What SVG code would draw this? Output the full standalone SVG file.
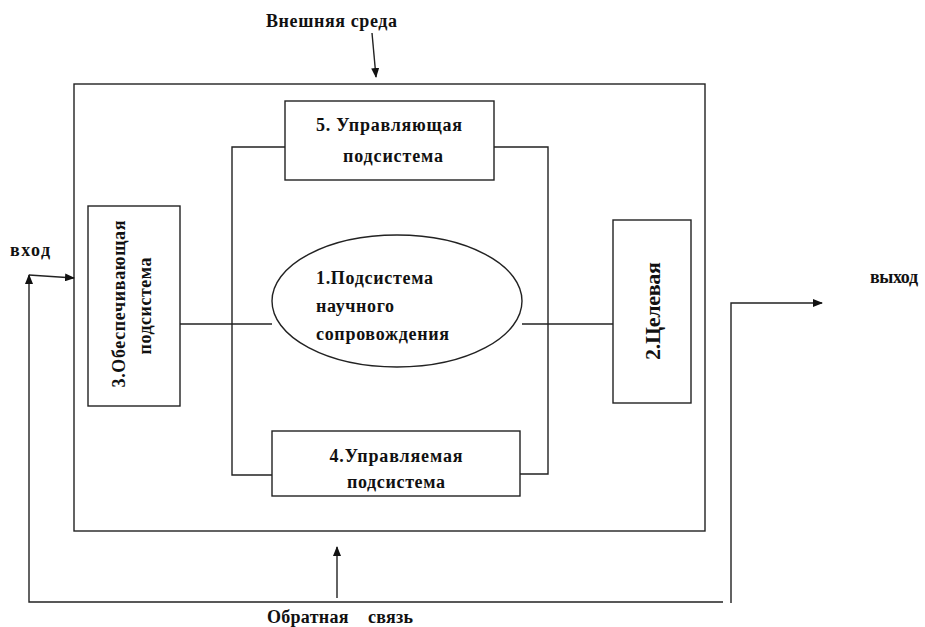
<svg xmlns="http://www.w3.org/2000/svg" width="925" height="627" viewBox="0 0 925 627">
<style>
.b{fill:none;stroke:#222;stroke-width:1.4}
.l{fill:none;stroke:#222;stroke-width:1.4}
.t{font-family:"Liberation Serif","Times New Roman",serif;font-weight:bold;font-size:18px;fill:#111}
.n{font-weight:normal}
</style>
<defs>
<marker id="ah" markerWidth="10" markerHeight="8" refX="9" refY="4" orient="auto" markerUnits="userSpaceOnUse">
<path d="M0,0 L10,4 L0,8 Z" fill="#111"/>
</marker>
</defs>
<rect width="925" height="627" fill="#fff"/>

<g id="outer"><rect class="b" x="74" y="84" width="631" height="447"/></g>

<g id="connectors">
<polyline class="l" points="285,147 232,147 232,475 272,475"/>
<polyline class="l" points="494,147 548,147 548,474 520,474"/>
<line class="l" x1="180" y1="324" x2="272" y2="324"/>
<line class="l" x1="522" y1="324" x2="613" y2="324"/>
<line class="l" x1="372" y1="33" x2="376" y2="77" marker-end="url(#ah)"/>
<line class="l" x1="29" y1="275" x2="74" y2="278" marker-end="url(#ah)"/>
<polyline class="l" points="723,602 29,602 29,275" marker-end="url(#ah)"/>
<polyline class="l" points="731,603 731,303 822,303" marker-end="url(#ah)"/>
<line class="l" x1="337" y1="598" x2="337" y2="547" marker-end="url(#ah)"/>
</g>

<g id="node5">
<rect class="b" x="285" y="101" width="209" height="79"/>
<text class="t" x="389" y="131" text-anchor="middle" textLength="146">5. Управляющая</text>
<text class="t" x="393" y="162" text-anchor="middle" textLength="100">подсистема</text>
</g>

<g id="node4">
<rect class="b" x="272" y="431" width="248" height="65"/>
<text class="t" x="396" y="462" text-anchor="middle" textLength="133">4.Управляемая</text>
<text class="t" x="396" y="488" text-anchor="middle" textLength="98">подсистема</text>
</g>

<g id="node3">
<rect class="b" x="88" y="206" width="92" height="200"/>
<text class="t" transform="translate(125,304) rotate(-90)" text-anchor="middle" textLength="167">3.Обеспечивающая</text>
<text class="t" transform="translate(151,306) rotate(-90)" text-anchor="middle" textLength="97">подсистема</text>
</g>

<g id="node2">
<rect class="b" x="613" y="220" width="78" height="183"/>
<text class="t" style="font-size:22px" transform="translate(660,311) rotate(-90)" text-anchor="middle" textLength="98">2.Целевая</text>
</g>

<g id="node1">
<ellipse class="b" cx="397" cy="301" rx="125" ry="66"/>
<text class="t" x="316" y="284" textLength="117">1.Подсистема</text>
<text class="t" x="316" y="312" textLength="78">научного</text>
<text class="t" x="316" y="340" textLength="133">сопровождения</text>
</g>

<g id="labels">
<text class="t" x="266" y="27" textLength="131">Внешняя среда</text>
<text class="t" x="10" y="256" textLength="40">вход</text>
<text class="t" x="870" y="283" textLength="48">выход</text>
<text class="t" x="267" y="623" textLength="146" xml:space="preserve">Обратная    связь</text>
</g>
</svg>
